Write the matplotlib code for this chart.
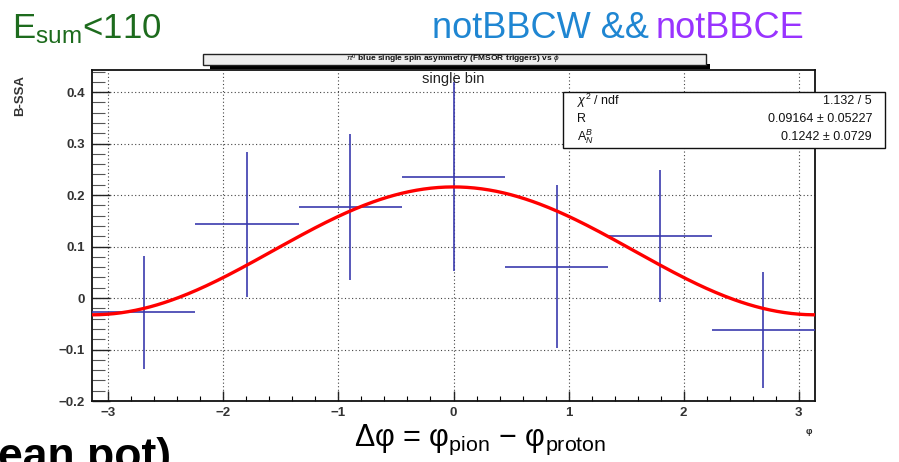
import numpy as np
import matplotlib
matplotlib.use("Agg")
import matplotlib.pyplot as plt
from matplotlib.patches import Rectangle
from matplotlib.ticker import MultipleLocator

plt.rcParams['font.family'] = ['Liberation Sans', 'DejaVu Sans']
plt.rcParams['mathtext.fontset'] = 'custom'
plt.rcParams['mathtext.rm'] = 'Liberation Sans'
plt.rcParams['mathtext.it'] = 'Liberation Sans:italic'
plt.rcParams['mathtext.bf'] = 'Liberation Sans:bold'

# Binned asymmetry vs azimuthal difference (7 bins over [-pi, pi])
n_bins = 7
bin_centers = [-2.693, -1.795, -0.898, 0.0, 0.898, 1.795, 2.693]
ssa_values = [-0.028, 0.143, 0.177, 0.236, 0.061, 0.120, -0.062]
ssa_errors = [0.110, 0.141, 0.141, 0.183, 0.159, 0.128, 0.113]

# Fit result: R + A * cos(dphi)
fit_R = 0.09164
fit_R_err = 0.05227
fit_A = 0.1242
fit_A_err = 0.0729
chi2 = 1.132
ndf = 5

W, H = 899, 462
fig = plt.figure(figsize=(W / 100, H / 100), dpi=100)

def fx(px):
    return px / W

def fy(py):
    return (H - py) / H

ax = fig.add_axes([fx(92), fy(401), fx(815) - fx(92), fy(70) - fy(401)])
ax.set_xlim(-np.pi, np.pi)
ax.set_ylim(-0.2, 0.443)

bar_color = '#3a3aae'
half_width = np.pi / n_bins
ax.errorbar(bin_centers, ssa_values, xerr=half_width, yerr=ssa_errors,
            fmt='none', ecolor=bar_color, elinewidth=1.4, capsize=0,
            alpha=0.85, zorder=3)

xs = np.linspace(-np.pi, np.pi, 400)
ax.plot(xs, fit_R + fit_A * np.cos(xs), color='#ff0000', lw=2.4, zorder=4)

# Axis styling
ax.xaxis.set_major_locator(MultipleLocator(1))
ax.xaxis.set_minor_locator(MultipleLocator(0.2))
ax.yaxis.set_major_locator(MultipleLocator(0.1))
ax.yaxis.set_minor_locator(MultipleLocator(0.02))
ax.tick_params(axis='x', which='major', direction='in', length=7, width=1.0,
               labelsize=9.5, pad=4, colors='#222222')
ax.tick_params(axis='x', which='minor', direction='in', length=3.5, width=0.8)
ax.tick_params(axis='y', which='major', direction='in', length=13, width=1.0,
               labelsize=9.5, pad=5, colors='#222222')
ax.tick_params(axis='y', which='minor', direction='in', length=9, width=0.8,
               color='#555555')
ax.set_xticks([-3, -2, -1, 0, 1, 2, 3])
ax.set_yticks([-0.2, -0.1, 0, 0.1, 0.2, 0.3, 0.4])
ax.set_yticklabels(['\u22120.2', '\u22120.1', '0', '0.1', '0.2', '0.3', '0.4'])
ax.set_xticklabels(['\u22123', '\u22122', '\u22121', '0', '1', '2', '3'])
for lab in ax.get_xticklabels() + ax.get_yticklabels():
    lab.set_fontweight('bold')
    lab.set_color('#333333')
ax.grid(True, which='major', color='#444444', lw=0.8, linestyle=(0, (1, 2.2)))
for sp in ax.spines.values():
    sp.set_linewidth(1.3)
    sp.set_color('#111111')

ax.text(0.0, 0.425, 'single bin', ha='center', va='center', fontsize=10.5,
        color='#222222', zorder=5)

# Title box with drop shadow
fig.patches.append(Rectangle((fx(210), fy(69)), fx(710) - fx(210), fy(64) - fy(69),
                             transform=fig.transFigure, facecolor='black',
                             edgecolor='none', zorder=1))
fig.patches.append(Rectangle((fx(203), fy(65)), fx(706) - fx(203), fy(54) - fy(65),
                             transform=fig.transFigure, facecolor='#eeeeee',
                             edgecolor='#222222', lw=1.0, zorder=2))
fig.text(fx(453), fy(59.5), r'$\pi^{0}$ blue single spin asymmetry (FMSOR triggers) vs $\phi$',
         ha='center', va='center', fontsize=6, fontweight='bold', color='#111111',
         zorder=3)

# Fit statistics box
fig.patches.append(Rectangle((fx(563), fy(148)), fx(885) - fx(563), fy(92) - fy(148),
                             transform=fig.transFigure, facecolor='white',
                             edgecolor='#111111', lw=1.0, zorder=5))
rows = [
    (r'$\chi^{2}$ / ndf', f'{chi2:.3f} / {ndf}'),
    ('R', f'{fit_R:.5f} \u00b1 {fit_R_err:.5f}'),
    (r'A$_{N}^{B}$', f'{fit_A:.4f} \u00b1 {fit_A_err:.4f}'),
]
for i, (lab, val) in enumerate(rows):
    yy = fy(101 + 18 * i)
    fig.text(fx(577), yy, lab, ha='left', va='center', fontsize=9,
             color='#111111', zorder=6)
    fig.text(fx(872), yy, val, ha='right', va='center', fontsize=9,
             color='#111111', zorder=6)

# Axis titles
fig.text(fx(20), fy(96), 'B-SSA', rotation=90, ha='center', va='center',
         fontsize=9.5, fontweight='bold', color='#333333')
fig.text(fx(809), fy(432), '\u03c6', ha='center', va='center', fontsize=6.5,
         fontweight='bold', color='#222222')
fig.text(fx(480), fy(440),
         '\u0394\u03c6 = \u03c6$_{\\mathrm{pion}}$ \u2212 \u03c6$_{\\mathrm{proton}}$',
         ha='center', va='center', fontsize=22, color='black')

# Header annotations
fig.text(fx(12), fy(38), r'E$_{\mathrm{sum}}$<110', ha='left', va='baseline',
         fontsize=25, color='#1d6b1d')
blue = fig.text(fx(432), fy(38), 'notBBCW &&', ha='left', va='baseline',
                fontsize=26, color='#1f86d2')
fig.canvas.draw()
blue_right = blue.get_window_extent(renderer=fig.canvas.get_renderer()).x1
fig.text(blue_right / W + fx(7), fy(38), 'notBBCE', ha='left', va='baseline',
         fontsize=26, color='#9933ff')

fig.text(fx(-2), fy(437), 'ean pot)', ha='left', va='top', fontsize=32,
         fontweight='bold', color='black')

fig.savefig('out.png', dpi=100)
